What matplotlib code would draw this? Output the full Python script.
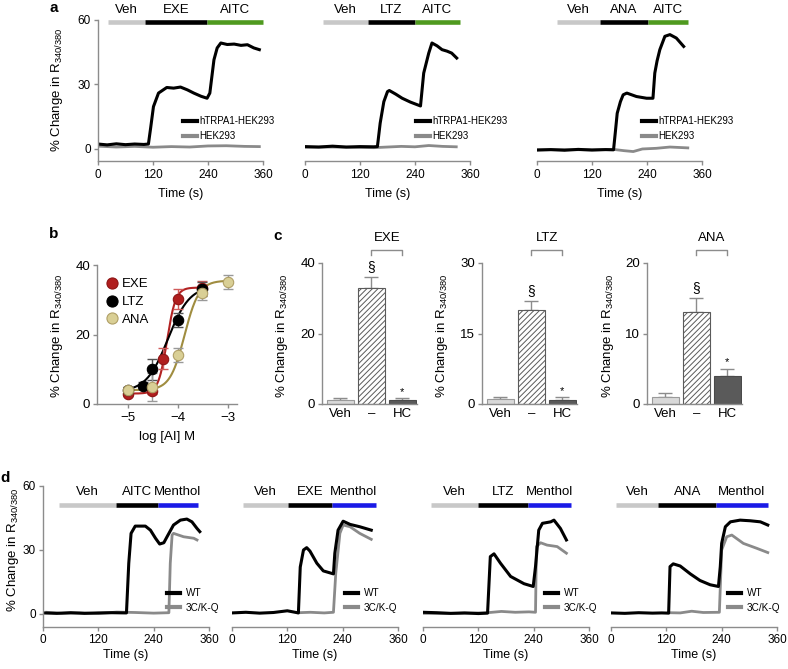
import numpy as np
import matplotlib
matplotlib.use('Agg')
import matplotlib.pyplot as plt
from matplotlib.lines import Line2D

plt.rcParams['font.family'] = 'Liberation Sans'
plt.rcParams['mathtext.fontset'] = 'custom'
plt.rcParams['mathtext.rm'] = 'Liberation Sans'
plt.rcParams['mathtext.it'] = 'Liberation Sans:italic'
plt.rcParams['hatch.linewidth'] = 0.7
plt.rcParams['axes.unicode_minus'] = True

# ---------- data ----------
# panel a: time courses (s, % change)
a_wt_t = [[0, 20, 40, 60, 80, 100, 110, 115, 121, 132, 150, 165, 180, 195, 209, 225, 238, 244, 253, 260, 268, 282, 297, 312, 326, 340, 352],
          [0, 30, 60, 90, 120, 150, 158, 164, 172, 180, 184, 198, 212, 230, 252, 259, 270, 277, 288, 299, 310, 320, 331],
          [0, 30, 60, 90, 120, 150, 167, 171, 175, 182, 188, 196, 217, 239, 253, 257, 262, 268, 279, 290, 304, 320]]
a_wt_y = [[2.3, 1.9, 2.4, 2.0, 2.3, 2.1, 2.3, 10.0, 19.7, 26.0, 28.6, 28.3, 28.8, 27.5, 26.0, 24.5, 23.6, 26.0, 41.5, 47.0, 49.3, 48.6, 48.8, 48.2, 48.5, 47.0, 46.2],
          [1.1, 0.9, 1.3, 0.9, 1.1, 1.0, 1.1, 12.0, 22.0, 26.7, 27.2, 25.5, 23.6, 21.8, 20.0, 35.3, 44.6, 49.3, 48.0, 46.2, 45.5, 44.6, 42.3],
          [-0.5, -0.3, -0.6, -0.2, -0.5, -0.3, -0.4, 8.0, 16.6, 22.0, 25.2, 26.0, 24.4, 23.6, 23.6, 35.3, 41.0, 46.2, 52.4, 53.2, 51.6, 47.7]]
a_hek_t = [[0, 40, 80, 120, 160, 200, 240, 280, 320, 352],
           [0, 60, 120, 150, 180, 210, 240, 270, 300, 330],
           [0, 60, 120, 167, 190, 210, 230, 260, 290, 329]]
a_hek_y = [[1.3, 0.9, 1.2, 0.8, 1.1, 0.9, 1.4, 1.5, 1.2, 1.1],
           [0.8, 0.9, 0.7, 0.6, 0.9, 1.2, 1.0, 1.6, 1.2, 1.0],
           [-0.4, -0.3, -0.4, -0.2, -0.8, -1.2, 0.0, 0.3, 0.9, 0.5]]
a_bar_edges = [[22, 103, 237, 360], [39, 138, 239, 338], [44, 137, 242, 330]]
a_bar_labels = [['Veh', 'EXE', 'AITC'], ['Veh', 'LTZ', 'AITC'], ['Veh', 'ANA', 'AITC']]

# panel b: concentration response (log M, % change)
b_names = ['EXE', 'LTZ', 'ANA']
b_x = [[-5, -4.52, -4.3, -4, -3.52], [-5, -4.7, -4.52, -4, -3.52], [-5, -4.52, -4, -3.52, -3]]
b_y = [[3, 3.8, 13, 30.2, 33.5], [4, 5.2, 10, 24.3, 33], [4, 5, 14, 32, 35]]
b_err = [[0.8, 1, 3, 3, 2], [0.8, 1, 3, 2, 2], [1, 4, 2, 2, 2]]
# Hill fit: bottom, top, logEC50, slope, x range
b_fit = [[3, 33.5, -4.22, 5.0, -5, -3.52], [3.5, 34, -4.2, 2.0, -5, -3.52], [4, 35.5, -3.87, 3.0, -5, -3]]

# panel c: bars
c_cats = ['Veh', '\u2013', 'HC']
c_titles = ['EXE', 'LTZ', 'ANA']
c_vals = [[1, 33, 1], [1, 20, 0.8], [1, 13, 4]]
c_errs = [[0.6, 3, 0.6], [0.5, 2, 0.6], [0.6, 2, 1]]
c_ymax = [40, 30, 20]

# panel d: time courses WT vs 3C/K-Q
d_wt_t = [[0, 30, 60, 90, 120, 150, 181, 186, 191, 200, 222, 233, 244, 253, 262, 269, 283, 298, 312, 323, 334, 340],
          [0, 30, 60, 90, 120, 144, 148, 155, 162, 169, 184, 198, 220, 223, 230, 241, 256, 277, 302],
          [0, 30, 60, 90, 120, 140, 146, 154, 168, 190, 219, 239, 244, 251, 259, 277, 284, 298, 311],
          [0, 30, 60, 90, 110, 125, 128, 135, 150, 172, 193, 215, 233, 237, 240, 248, 259, 280, 302, 324, 340]]
d_wt_y = [[0.5, 0.3, 0.6, 0.3, 0.5, 0.6, 0.5, 23.8, 37.8, 41.2, 41.2, 39.3, 35.5, 32.8, 33.4, 36.2, 41.7, 44.0, 44.5, 43.2, 40.1, 38.6],
          [0.5, 0.8, 0.4, 0.7, 1.5, 0.5, 22.0, 30.0, 31.1, 29.5, 23.8, 20.2, 18.8, 28.5, 39.3, 43.5, 42.0, 40.9, 39.3],
          [0.8, 0.6, 0.3, 0.5, 0.2, 0.4, 26.9, 28.2, 23.8, 17.6, 14.2, 12.9, 22.2, 39.3, 42.5, 43.2, 44.0, 40.1, 34.7],
          [0.5, 0.3, 0.6, 0.4, 0.5, 0.4, 22.2, 23.5, 22.5, 18.8, 15.7, 13.7, 12.9, 22.2, 33.1, 40.9, 43.2, 44.0, 43.7, 43.2, 41.7]]
d_mut_t = [[8, 40, 80, 120, 160, 200, 240, 273, 276, 280, 283, 305, 327, 334],
           [144, 170, 200, 220, 225, 234, 241, 256, 277, 302],
           [0, 60, 120, 140, 170, 200, 230, 244, 246, 255, 269, 291, 311],
           [125, 150, 175, 200, 235, 240, 251, 262, 287, 316, 340]]
d_mut_y = [[0.8, 0.3, 0.5, 0.2, 0.9, 0.7, 0.4, 0.6, 23.8, 37.0, 37.8, 36.2, 35.5, 34.7],
           [0.6, 0.8, 0.5, 0.8, 19.0, 37.8, 41.7, 40.9, 37.8, 35.0],
           [0.3, 0.2, 0.5, 0.6, 1.2, 0.8, 1.0, 0.8, 31.6, 33.4, 32.3, 31.6, 28.5],
           [0.6, 0.5, 1.3, 0.7, 0.8, 30.0, 36.2, 37.0, 33.1, 30.8, 28.8]]
d_bar_edges = [[34, 159, 249, 336], [23, 122, 216, 313], [17, 119, 228, 321], [11, 103, 228, 340]]
d_bar_labels = [['Veh', 'AITC', 'Menthol'], ['Veh', 'EXE', 'Menthol'], ['Veh', 'LTZ', 'Menthol'], ['Veh', 'ANA', 'Menthol']]

# ---------- figure ----------
W, H = 788, 669
fig = plt.figure(figsize=(W / 100, H / 100), dpi=100)
AX = '#8c8c8c'
GREY = '#8a8a8a'
YLAB = '% Change in R$_{\\mathrm{340/380}}$'


def add_ax(x0, x1, y0, y1):
    return fig.add_axes([x0 / W, 1 - y1 / H, (x1 - x0) / W, (y1 - y0) / H])


def style(ax, left=True, fs=8):
    ax.spines['top'].set_visible(False)
    ax.spines['right'].set_visible(False)
    for s in ['left', 'bottom']:
        ax.spines[s].set_color(AX)
        ax.spines[s].set_linewidth(1)
    ax.tick_params(color=AX, labelcolor='black', length=3, width=1, labelsize=fs, pad=2)
    if not left:
        ax.spines['left'].set_visible(False)
        ax.tick_params(axis='y', left=False, labelleft=False)


def drug_bars(ax, edges, labels, colors, ybar, ytxt):
    for i in range(3):
        ax.plot([edges[i], edges[i + 1]], [ybar, ybar], color=colors[i], lw=3.3,
                solid_capstyle='butt', clip_on=False)
        ax.text((edges[i] + edges[i + 1]) / 2, ytxt, labels[i], ha='center', va='center',
                fontsize=9.5, clip_on=False)


def px_text(x, y, s, **kw):
    fig.text(x / W, 1 - y / H, s, **kw)


# panel a
a_x0 = [98, 305, 537]
a_leg = [183, 416, 642]
for i in range(3):
    ax = add_ax(a_x0[i], a_x0[i] + 165, 20, 161)
    ax.plot(a_hek_t[i], a_hek_y[i], color=GREY, lw=2)
    ax.plot(a_wt_t[i], a_wt_y[i], color='black', lw=2.2)
    ax.set_xlim(0, 360)
    ax.set_ylim(-5.6, 60)
    ax.set_xticks([0, 120, 240, 360])
    ax.set_yticks([0, 30, 60])
    style(ax, left=(i == 0), fs=8.5)
    ax.tick_params(axis='x', pad=3)
    ax.set_xlabel('Time (s)', fontsize=9, labelpad=5)
    drug_bars(ax, a_bar_edges[i], a_bar_labels[i], ['#c8c8c8', 'black', '#4f9a1f'], 59.2, 64.8)
    handles = [Line2D([], [], color='black', lw=3), Line2D([], [], color=GREY, lw=3)]
    fig.legend(handles, ['hTRPA1-HEK293', 'HEK293'], loc='center left',
               bbox_to_anchor=(a_leg[i] / W, 1 - 128.5 / H), frameon=False, fontsize=7,
               borderpad=0, borderaxespad=0, handlelength=1.4, handletextpad=0.3, labelspacing=0.5)
px_text(57, 90, YLAB, rotation=90, ha='center', va='center', fontsize=9.5)

# panel b
axb = add_ax(97, 237, 265, 404)
b_face = ['#b01e1e', 'black', '#d9cf95']
b_edge = ['#8e1515', 'black', '#b09f66']
b_line = ['#b22222', 'black', '#a08d40']
b_ecol = ['#d05a5a', '#555555', '#999999']
handles = []
for i in range(3):
    bot, top, ec50, n, xa, xb = b_fit[i]
    xs = np.linspace(xa, xb, 200)
    axb.plot(xs, bot + (top - bot) / (1 + 10 ** ((ec50 - xs) * n)), color=b_line[i], lw=1.5, zorder=2)
for i in range(3):
    axb.errorbar(b_x[i], b_y[i], yerr=b_err[i], fmt='none', ecolor=b_ecol[i], elinewidth=1,
                 capsize=3.5, zorder=3)
    axb.plot(b_x[i], b_y[i], 'o', ms=7.5, mfc=b_face[i], mec=b_edge[i], mew=0.8, zorder=4 + i)
    handles.append(Line2D([], [], ls='none', marker='o', ms=8, mfc=b_face[i], mec=b_edge[i], mew=0.8))
axb.set_xlim(-5.62, -2.82)
axb.set_ylim(0, 40)
axb.set_xticks([-5, -4, -3])
axb.set_yticks([0, 20, 40])
style(axb, fs=9.5)
axb.tick_params(axis='x', pad=3)
axb.set_xlabel('log [AI] M', fontsize=9.5, labelpad=5)
fig.legend(handles, b_names, loc='center left', bbox_to_anchor=(105 / W, 1 - 302 / H),
           frameon=False, fontsize=9.5, borderpad=0, borderaxespad=0, handlelength=1.0,
           handletextpad=0.25, labelspacing=0.42)
px_text(57, 336, YLAB, rotation=90, ha='center', va='center', fontsize=9.5)

# panel c
c_x0 = [322, 482, 647]
c_ylab_x = [282, 442, 608]
for i in range(3):
    ax = add_ax(c_x0[i], c_x0[i] + 95, 263, 404)
    pos = np.arange(3)
    bars = ax.bar(pos, c_vals[i], width=0.85, color=['#d9d9d9', 'white', '#5a5a5a'],
                  edgecolor=['#9a9a9a', '#5a5a5a', '#4a4a4a'], linewidth=0.8, zorder=2)
    bars[1].set_hatch('//////')
    ax.errorbar(pos, c_vals[i], yerr=[np.zeros(3), c_errs[i]], fmt='none', ecolor=AX,
                elinewidth=1, capsize=5, capthick=1, zorder=1)
    ax.set_xlim(-0.59, 2.47)
    ax.set_ylim(0, c_ymax[i])
    ax.set_yticks([0, c_ymax[i] / 2, c_ymax[i]])
    ax.set_yticklabels(['0', '%g' % (c_ymax[i] / 2), '%g' % c_ymax[i]])
    ax.set_xticks(pos)
    ax.set_xticklabels(c_cats)
    style(ax, fs=9.5)
    ax.tick_params(axis='x', length=0, pad=3)
    ax.annotate('\u00a7', (1, c_vals[i][1] + c_errs[i][1]), xytext=(0, 2), textcoords='offset points',
                ha='center', va='bottom', fontsize=10)
    ax.annotate('*', (2, c_vals[i][2] + c_errs[i][2]), xytext=(0, 1), textcoords='offset points',
                ha='center', va='bottom', fontsize=8)
    tr = ax.get_xaxis_transform()
    ax.plot([1, 1, 2, 2], [1.057, 1.092, 1.092, 1.057], color=AX, lw=1, transform=tr, clip_on=False)
    ax.text(1.5, 1.18, c_titles[i], transform=tr, ha='center', va='center', fontsize=9.5)
    px_text(c_ylab_x[i], 336, YLAB, rotation=90, ha='center', va='center', fontsize=9.5)

# panel d
d_x0 = [43, 232, 423, 611]
d_leg = [167, 345, 545, 728]
for i in range(4):
    ax = add_ax(d_x0[i], d_x0[i] + 166, 486, 627)
    ax.plot(d_mut_t[i], d_mut_y[i], color=GREY, lw=2)
    ax.plot(d_wt_t[i], d_wt_y[i], color='black', lw=2.2)
    ax.set_xlim(0, 360)
    ax.set_ylim(-6.1, 60)
    ax.set_xticks([0, 120, 240, 360])
    ax.set_yticks([0, 30, 60])
    style(ax, left=(i == 0), fs=8.5)
    ax.set_xlabel('Time (s)', fontsize=9, labelpad=2)
    drug_bars(ax, d_bar_edges[i], d_bar_labels[i], ['#c8c8c8', 'black', '#1a1ae6'], 51, 57.2)
    handles = [Line2D([], [], color='black', lw=3), Line2D([], [], color=GREY, lw=3)]
    fig.legend(handles, ['WT', '3C/K-Q'], loc='center left',
               bbox_to_anchor=(d_leg[i] / W, 1 - 600.5 / H), frameon=False, fontsize=7.2,
               borderpad=0, borderaxespad=0, handlelength=1.3, handletextpad=0.55, labelspacing=0.45)
px_text(13, 550, YLAB, rotation=90, ha='center', va='center', fontsize=9.5)

# panel letters
for s, x, y in [('a', 54, 8), ('b', 54, 234), ('c', 278, 236), ('d', 5, 478)]:
    px_text(x, y, s, fontsize=11, fontweight='bold', ha='center', va='center')

fig.savefig('out.png', dpi=100)
